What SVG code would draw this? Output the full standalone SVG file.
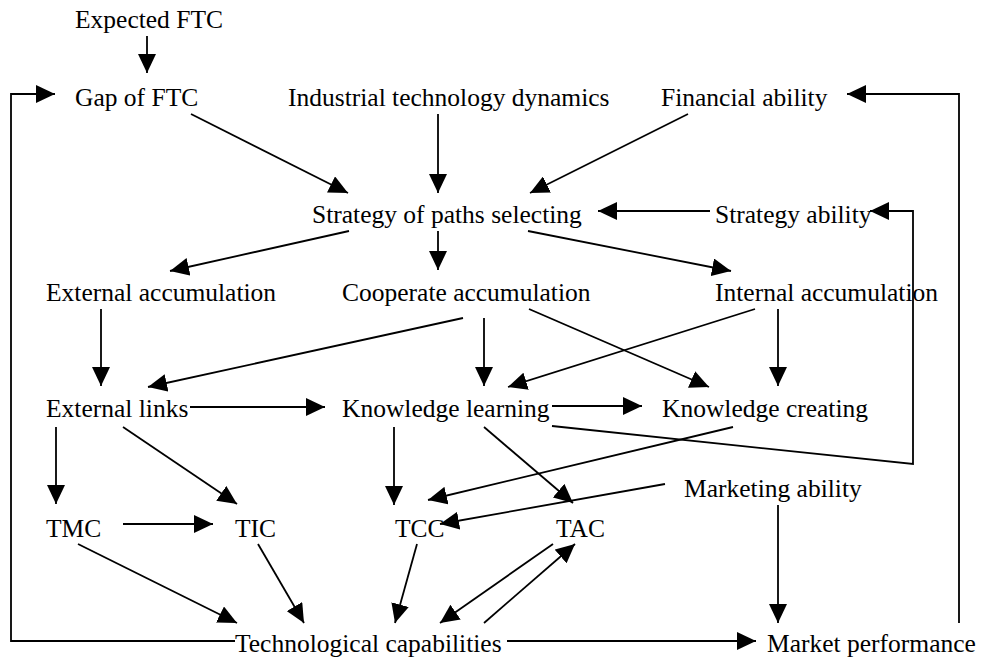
<svg xmlns="http://www.w3.org/2000/svg" width="982" height="660" viewBox="0 0 982 660">
<defs>
<style>
.c path{fill:none;stroke:#000;stroke-width:1.8;marker-end:url(#ah)}
</style>
<marker id="ah" markerWidth="19" markerHeight="18" refX="19" refY="9" orient="auto" markerUnits="userSpaceOnUse"><path d="M0,0 L19,9 L0,18 z" fill="#000"/></marker>
</defs>
<rect width="982" height="660" fill="#fff"/>
<g class="c" id="connectors">
<path d="M147,36 L147,73"/>
<path d="M235,641 H11 V94 H55"/>
<path d="M191,114 L348,193"/>
<path d="M438,114 L438,193"/>
<path d="M688,114 L530,193"/>
<path d="M710,211 L598,211"/>
<path d="M552,426 L913,464 L913,211 L870,211"/>
<path d="M959,623 L959,94 L847,94"/>
<path d="M349,231 L170,271"/>
<path d="M438,231 L438,270"/>
<path d="M528,231 L731,271"/>
<path d="M101,309 L101,386"/>
<path d="M463,318 L148,387"/>
<path d="M484,318 L484,386"/>
<path d="M529,309 L709,387"/>
<path d="M755,309 L508,387"/>
<path d="M778,309 L778,386"/>
<path d="M190,407 L325,407"/>
<path d="M552,406 L642,406"/>
<path d="M56,427 L56,504"/>
<path d="M123,427 L237,504"/>
<path d="M394,427 L394,505"/>
<path d="M484,427 L573,503"/>
<path d="M733,427 L428,500"/>
<path d="M665,484 L440,524"/>
<path d="M778,505 L778,623"/>
<path d="M123,524 L213,524"/>
<path d="M78,544 L237,623"/>
<path d="M258,544 L304,623"/>
<path d="M417,544 L395,623"/>
<path d="M553,544 L440,623"/>
<path d="M484,623 L575,544"/>
<path d="M507,641 L756,641"/>
</g>
<g style="font-family:'Liberation Serif','Times New Roman',Times,serif;font-size:25.5px" fill="#000">
<g id="expected_ftc"><text x="75" y="28">Expected FTC</text></g>
<g id="gap_ftc"><text x="75" y="106">Gap of FTC</text></g>
<g id="industrial_tech"><text x="288" y="106">Industrial technology dynamics</text></g>
<g id="financial_ability"><text x="661" y="106">Financial ability</text></g>
<g id="strategy_paths"><text x="312" y="223">Strategy of paths selecting</text></g>
<g id="strategy_ability"><text x="715" y="223">Strategy ability</text></g>
<g id="external_acc"><text x="46" y="301">External accumulation</text></g>
<g id="cooperate_acc"><text x="342" y="301">Cooperate accumulation</text></g>
<g id="internal_acc"><text x="715" y="301">Internal accumulation</text></g>
<g id="external_links"><text x="46" y="417">External links</text></g>
<g id="knowledge_learning"><text x="342" y="417">Knowledge learning</text></g>
<g id="knowledge_creating"><text x="662" y="417">Knowledge creating</text></g>
<g id="marketing_ability"><text x="684" y="497">Marketing ability</text></g>
<g id="tmc"><text x="46" y="537">TMC</text></g>
<g id="tic"><text x="235" y="537">TIC</text></g>
<g id="tcc"><text x="395" y="537">TCC</text></g>
<g id="tac"><text x="556" y="537">TAC</text></g>
<g id="tech_capabilities"><text x="235" y="652">Technological capabilities</text></g>
<g id="market_performance"><text x="767" y="652">Market performance</text></g>
</g>
</svg>
